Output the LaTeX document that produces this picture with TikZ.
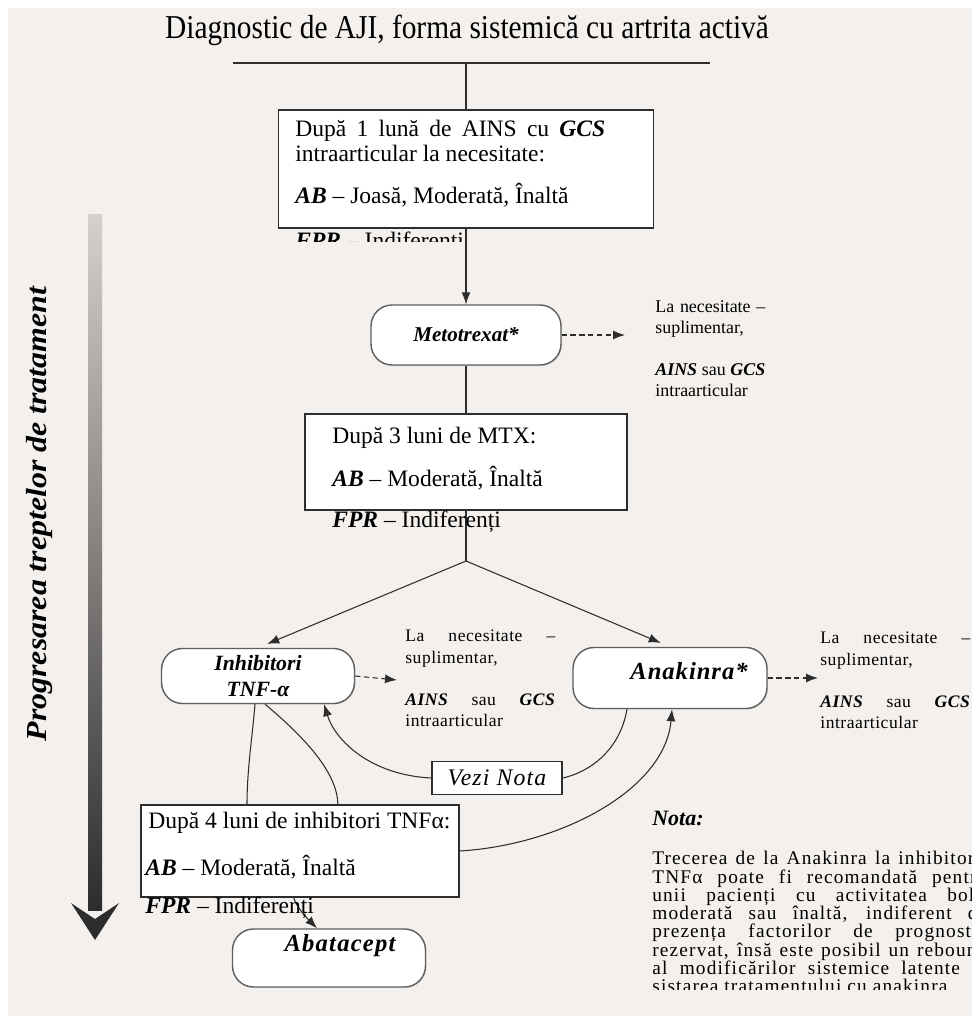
\documentclass[tikz,border=0pt]{standalone}
\usepackage{fontspec}
\setmainfont{Liberation Serif}
\usetikzlibrary{arrows.meta, calc, positioning, shadows}
\definecolor{bgcol}{RGB}{243,240,237}
\definecolor{linecol}{RGB}{45,45,45}
\definecolor{rboxcol}{RGB}{95,95,95}
\definecolor{barlight}{RGB}{214,208,204}
\definecolor{bardark}{RGB}{45,45,45}
\pgfdeclarelayer{back}
\pgfdeclarelayer{lines}
\pgfsetlayers{back,lines,main}

\newcommand{\bfit}[1]{\textbf{\textit{#1}}}
\newcommand{\jline}[2]{\makebox[#1][s]{#2}}
\newcommand{\suplText}[1]{\jline{#1}{La necesitate –}\\ suplimentar,\\[12pt]\jline{#1}{\bfit{AINS} sau \bfit{GCS}}\\ intraarticular}

\begin{document}
\begin{tikzpicture}[x=0.02cm, y=-0.02cm,
    box/.style={draw=linecol, line width=0.8pt, fill=white, inner sep=0pt},
    rbox/.style={draw=rboxcol, line width=0.8pt, fill=white, rounded corners=0.42cm, minimum width=3.86cm, minimum height=1.14cm, inner sep=1pt, align=center, font=\fontsize{12}{13.5}\selectfont\bfseries\itshape, drop shadow={opacity=0.2, shadow xshift=0.6pt, shadow yshift=-0.6pt}},
    txt/.style={anchor=west, inner sep=0pt, font=\fontsize{13.4}{14.2}\selectfont},
    sidenote/.style={anchor=north west, inner sep=0pt, align=left, font=\fontsize{10.2}{12}\selectfont},
    arr/.style={draw=linecol, line width=0.6pt, -{Latex[length=0.24cm,width=0.18cm]}},
    dasharr/.style={arr, dash pattern=on 3pt off 2pt},
    conn/.style={draw=linecol, line width=0.6pt}]

  % page and background
  \useasboundingbox (0,0) rectangle (972,1016);
  \begin{pgfonlayer}{back}
    \fill[white] (0,0) rectangle (972,1016);
    \fill[bgcol] (8,8) rectangle (972,1016);
  \end{pgfonlayer}

  % progression arrow on the left
  \shade[top color=barlight, bottom color=bardark] (88,215) rectangle (102,910);
  \fill[bardark] (71,903) -- (95,940) -- (119,903) -- (95,919) -- cycle;
  \node[rotate=90] (progLbl) at (40,514) {\scalebox{1.1}[1]{\fontsize{16.5}{18}\selectfont\bfseries\itshape Progresarea treptelor de tratament}};

  % title
  \node (title) at (467,30) {\scalebox{0.88}[1]{\fontsize{19}{22}\selectfont Diagnostic de AJI, forma sistemică cu artrita activă}};
  \coordinate (lineL) at (233,63);
  \coordinate (lineR) at (710,63);

  % step 1
  \node[box, minimum width=7.5cm, minimum height=2.36cm] (box1) at (466,169) {};
  \node[txt, anchor=north west, text width=6.2cm, align=justify] (b1top) at (295,120) {După 1 lună de AINS cu \bfit{GCS}\linebreak intraarticular la necesitate:};
  \node[txt] (b1ab) at (295,195) {\bfit{AB} – Joasă, Moderată, Înaltă};
  \begin{scope}
    \clip (280,229) rectangle (650,242);
    \node[txt] (b1fpr) at (295,243) {\bfit{FPR} – Indiferenți};
  \end{scope}

  % metotrexat
  \node[rbox, minimum width=3.8cm, minimum height=1.2cm] (meto) at (466,335) {Metotrexat*};
  \coordinate (metoEnd) at (625,335);
  \node[sidenote] (sup1) at (655,300) {\suplText{2.2cm}};

  % step 2
  \node[box, minimum width=6.44cm, minimum height=1.92cm] (box2) at (466,462) {};
  \node[txt] (b2top) at (332,438) {După 3 luni de MTX:};
  \node[txt] (b2ab) at (332,478) {\bfit{AB} – Moderată, Înaltă};
  \node[txt] (b2fpr) at (332,522) {\bfit{FPR} – Indiferenți};
  \coordinate (split) at (466,561);

  % biologics
  \node[rbox, minimum height=1.1cm, font=\fontsize{12.4}{14.5}\selectfont\bfseries\itshape] (inhib) at (258,676) {Inhibitori\\TNF-α};
  \coordinate (inhibEnd) at (397,680);
  \node[sidenote, font=\addfontfeatures{LetterSpace=3}] (sup2) at (405,630) {\suplText{3.0cm}};

  \node[rbox, minimum width=3.88cm, minimum height=1.22cm] (anak) at (670,678) {};
  \node[font=\fontsize{14}{16}\selectfont\bfseries\itshape] (anakLbl) at (689,671) {\addfontfeatures{LetterSpace=4}Anakinra*};
  \coordinate (anakEnd) at (818,678);
  \node[sidenote, font=\addfontfeatures{LetterSpace=3}] (sup3) at (820,632) {\suplText{3.0cm}};

  \node[box, minimum width=2.6cm, minimum height=0.66cm] (vezi) at (497,778) {\fontsize{13.5}{15}\selectfont\itshape\addfontfeatures{LetterSpace=5}Vezi Nota};

  % step 3
  \node[box, minimum width=6.36cm, minimum height=1.84cm] (box3) at (300,851) {};
  \node[txt] (b3top) at (148,823) {După 4 luni de inhibitori TNFα:};
  \node[txt] (b3ab) at (145,867) {\bfit{AB} – Moderată, Înaltă};
  \node[txt] (b3fpr) at (145,908) {\bfit{FPR} – Indiferenți};

  \node[rbox, minimum height=1.16cm] (abat) at (329,958) {};
  \node[font=\fontsize{14}{16}\selectfont\bfseries\itshape] (abatLbl) at (340,946) {\addfontfeatures{LetterSpace=5}Abatacept};

  % note
  \node[anchor=west, inner sep=0pt, font=\fontsize{12.5}{14}\selectfont\bfseries\itshape] (notaT) at (652,818) {Nota:};
  \begin{scope}
    \clip (640,840) rectangle (972,989);
    \node[anchor=north west, inner sep=0pt, align=left, font=\fontsize{11}{10.4}\selectfont\addfontfeatures{LetterSpace=6}] (notaP) at (652,851) {\jline{6.7cm}{Trecerea de la Anakinra la inhibitorii}\\ \jline{6.7cm}{TNFα poate fi recomandată pentru}\\ \jline{6.7cm}{unii pacienți cu activitatea bolii}\\ \jline{6.7cm}{moderată sau înaltă, indiferent de}\\ \jline{6.7cm}{prezența factorilor de prognostic}\\ \jline{6.7cm}{rezervat, însă este posibil un rebound}\\ \jline{6.7cm}{al modificărilor sistemice latente la}\\ sistarea tratamentului cu anakinra.};
  \end{scope}

  % connectors
  \begin{pgfonlayer}{lines}
    \draw[conn] (lineL) -- (lineR);
    \draw[conn] (box1.north |- lineL) -- (box1.north);
    \draw[arr] (box1.south) -- (meto.north);
    \draw[dasharr] (meto.east) -- (metoEnd);
    \draw[conn] (meto.south) -- (box2.north);
    \draw[conn] (box2.south) -- (split);
    \draw[arr, shorten >=0.2cm] (split) -- (inhib.north);
    \draw[arr, shorten >=0.2cm] (split) -- (anak.north);
    \draw[dasharr] (inhib.east) -- (inhibEnd);
    \draw[dasharr] (anak.east) -- (anakEnd);
    \draw[arr] (vezi.west) .. controls (370,775) and (335,740) .. ($(inhib.south)+(66,0)$);
    \draw[conn] ($(anak.south)+(-43,0)$) .. controls (620,750) and (590,772) .. (vezi.east);
    \draw[arr] (box3.east) .. controls (560,845) and (665,790) .. ($(anak.south)+(2,0)$);
    \draw[conn] ($(inhib.south)+(-3,0)$) .. controls (252,740) and (247,770) .. ($(box3.north)+(-53,0)$);
    \draw[arr] ($(inhib.south)+(7,0)$) .. controls (440,850) and (235,845) .. ($(abat.north)+(-12,0)$);
  \end{pgfonlayer}
\end{tikzpicture}
\end{document}
